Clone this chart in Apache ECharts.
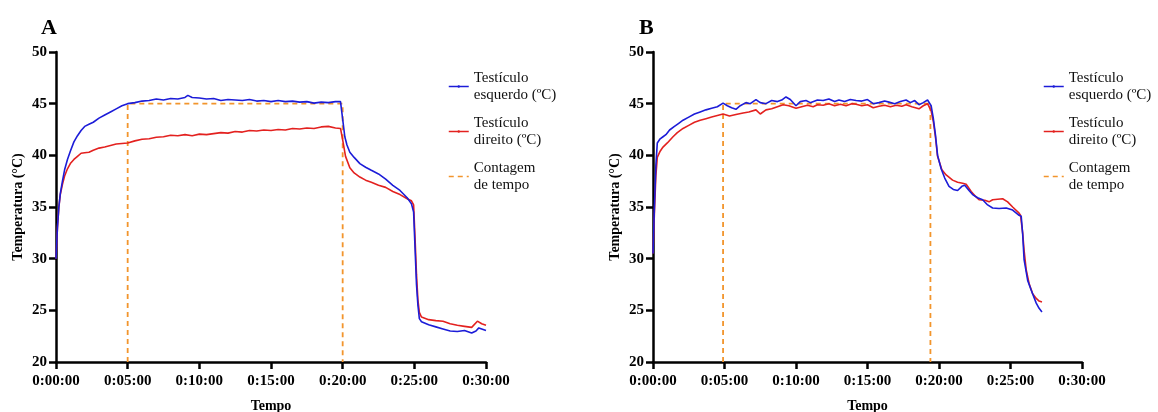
<!DOCTYPE html>
<html>
<head>
<meta charset="utf-8">
<script src="https://cdn.jsdelivr.net/npm/echarts@6/dist/echarts.min.js"></script>
<style>
  html, body { margin: 0; padding: 0; background: #ffffff; }
  #chart { width: 1158px; height: 412px; }
</style>
</head>
<body>
<div id="chart"></div>
<script>
// ---------- DATA (time in minutes, temperature in °C) ----------
const xTickLabels = ['0:00:00', '0:05:00', '0:10:00', '0:15:00', '0:20:00', '0:25:00', '0:30:00'];
const yTicks = [20, 25, 30, 35, 40, 45, 50];
const seriesNames = ['Testículo esquerdo (ºC)', 'Testículo direito (ºC)', 'Contagem de tempo'];
const legendLabels = ['Testículo\nesquerdo (ºC)', 'Testículo\ndireito (ºC)', 'Contagem\nde tempo'];

// Panel A – left testicle (blue)
const tA_left = [0, 0.1, 0.2, 0.3, 0.45, 0.6, 0.8, 1.0, 1.25, 1.5, 1.75, 2.0, 2.3, 2.6, 3.0, 3.4, 3.8, 4.2, 4.6, 5.0,
  5.5, 6.0, 6.5, 7.0, 7.5, 8.0, 8.5, 9.0, 9.2, 9.5, 10.0, 10.5, 11.0, 11.5, 12.0, 12.5, 13.0, 13.5, 14.0, 14.5,
  15.0, 15.5, 16.0, 16.5, 17.0, 17.5, 18.0, 18.5, 19.0, 19.5, 19.85, 20.0, 20.15, 20.3, 20.5, 20.8, 21.2, 21.6,
  22.0, 22.5, 23.0, 23.5, 24.0, 24.5, 24.8, 24.95, 25.05, 25.15, 25.25, 25.35, 25.5, 26.0, 26.5, 27.0, 27.5,
  28.0, 28.5, 29.0, 29.3, 29.5, 30.0];
const vA_left = [30.0, 33.0, 35.0, 36.3, 37.5, 38.6, 39.6, 40.4, 41.3, 41.9, 42.4, 42.8, 43.0, 43.2, 43.6, 43.9, 44.2, 44.5, 44.8, 45.0,
  45.1, 45.25, 45.3, 45.45, 45.35, 45.5, 45.45, 45.6, 45.8, 45.6, 45.55, 45.45, 45.5, 45.3, 45.4, 45.35, 45.3, 45.4, 45.25, 45.3,
  45.2, 45.3, 45.2, 45.25, 45.15, 45.2, 45.05, 45.15, 45.1, 45.2, 45.2, 43.5, 41.8, 41.0, 40.3, 39.8, 39.2, 38.85,
  38.55, 38.2, 37.7, 37.1, 36.6, 35.9, 35.3, 34.5, 31.0, 27.5, 25.5, 24.2, 23.9, 23.6, 23.4, 23.2, 23.0,
  22.95, 23.05, 22.8, 23.0, 23.3, 23.05];

// Panel A – right testicle (red)
const tA_right = [0, 0.1, 0.2, 0.3, 0.45, 0.6, 0.8, 1.0, 1.25, 1.5, 1.75, 2.0, 2.3, 2.6, 3.0, 3.4, 3.8, 4.2, 4.6, 5.0,
  5.5, 6.0, 6.5, 7.0, 7.5, 8.0, 8.5, 9.0, 9.5, 10.0, 10.5, 11.0, 11.5, 12.0, 12.5, 13.0, 13.5, 14.0, 14.5,
  15.0, 15.5, 16.0, 16.5, 17.0, 17.5, 18.0, 18.5, 19.0, 19.5, 19.85, 20.0, 20.2, 20.5, 20.8, 21.2, 21.6,
  22.0, 22.5, 23.0, 23.5, 24.0, 24.5, 24.8, 24.95, 25.05, 25.15, 25.25, 25.35, 25.5, 26.0, 26.5, 27.0, 27.5,
  28.0, 28.5, 29.0, 29.4, 29.7, 30.0];
const vA_right = [30.0, 33.0, 35.0, 36.2, 37.2, 38.0, 38.7, 39.2, 39.6, 39.9, 40.2, 40.25, 40.3, 40.5, 40.7, 40.8, 40.95, 41.1, 41.15, 41.2,
  41.4, 41.55, 41.6, 41.75, 41.8, 41.95, 41.9, 42.0, 41.9, 42.05, 42.0, 42.1, 42.2, 42.15, 42.3, 42.25, 42.4, 42.35, 42.45,
  42.4, 42.5, 42.45, 42.6, 42.55, 42.65, 42.6, 42.75, 42.8, 42.65, 42.6, 41.5, 39.9, 38.8, 38.3, 37.9, 37.6,
  37.4, 37.1, 36.9, 36.5, 36.2, 35.8, 35.6, 35.2, 32.0, 28.5, 26.0, 24.8, 24.35, 24.1, 24.0, 23.95, 23.7,
  23.55, 23.45, 23.35, 23.95, 23.7, 23.55];

// Panel A – time counting marks
const tA_count = [5, 5, 20, 20];
const vA_count = [20, 45, 45, 20];

// Panel B – left testicle (blue)
const tB_left = [0, 0.1, 0.2, 0.3, 0.5, 0.7, 0.9, 1.16, 1.5, 1.8, 2.1, 2.5, 2.9, 3.3, 3.7, 4.1, 4.5, 4.9, 5.2, 5.5,
  5.8, 6.1, 6.5, 6.8, 7.2, 7.5, 7.9, 8.3, 8.7, 9.0, 9.3, 9.6, 10.0, 10.3, 10.7, 11.0, 11.5, 11.9, 12.3, 12.7,
  13.0, 13.4, 13.8, 14.2, 14.6, 15.0, 15.4, 15.8, 16.2, 16.5, 16.9, 17.3, 17.7, 18.0, 18.3, 18.6, 18.9, 19.2,
  19.45, 19.6, 19.75, 19.9, 20.15, 20.4, 20.7, 21.0, 21.3, 21.6, 21.8, 22.1, 22.35, 22.7, 23.05, 23.4, 23.75,
  24.2, 24.7, 25.15, 25.6, 25.75, 25.85, 25.95, 26.2, 26.45, 26.8, 27.0, 27.2];
const vB_left = [30.5, 35.0, 39.0, 41.2, 41.6, 41.8, 42.0, 42.45, 42.8, 43.1, 43.4, 43.7, 44.0, 44.2, 44.4, 44.55, 44.7, 45.05, 44.8, 44.6,
  44.45, 44.8, 45.1, 45.0, 45.4, 45.1, 45.0, 45.3, 45.2, 45.35, 45.65, 45.4, 44.8, 45.2, 45.3, 45.1, 45.35, 45.3, 45.45, 45.2,
  45.35, 45.2, 45.4, 45.3, 45.25, 45.4, 45.0, 45.1, 45.25, 45.15, 45.0, 45.2, 45.35, 45.1, 45.3, 44.9, 45.1, 45.35,
  44.8, 43.6, 42.0, 40.0, 38.7, 37.8, 37.0, 36.7, 36.6, 37.0, 37.1, 36.6, 36.2, 35.9, 35.7, 35.2, 34.9,
  34.85, 34.9, 34.7, 34.2, 34.1, 32.4, 29.9, 27.9, 26.95, 25.7, 25.2, 24.85];

// Panel B – right testicle (red)
const tB_right = [0, 0.1, 0.2, 0.3, 0.5, 0.7, 1.0, 1.4, 1.7, 2.1, 2.5, 2.9, 3.3, 3.7, 4.1, 4.5, 4.9, 5.35, 5.8, 6.3,
  6.7, 7.2, 7.5, 7.9, 8.3, 8.7, 9.1, 9.5, 10.0, 10.4, 10.8, 11.2, 11.5, 11.9, 12.3, 12.7, 13.1, 13.5, 13.9, 14.2,
  14.6, 15.0, 15.4, 15.8, 16.2, 16.6, 17.0, 17.4, 17.7, 18.1, 18.6, 18.9, 19.2, 19.45, 19.6, 19.75, 19.9, 20.2,
  20.5, 20.95, 21.3, 21.65, 21.9, 22.25, 22.5, 22.8, 23.2, 23.5, 23.75, 24.1, 24.45, 24.8, 25.15, 25.6, 25.7,
  25.85, 25.95, 26.1, 26.3, 26.55, 26.8, 27.0, 27.2];
const vB_right = [30.5, 34.5, 38.0, 39.8, 40.4, 40.8, 41.2, 41.8, 42.2, 42.6, 42.9, 43.2, 43.4, 43.55, 43.7, 43.85, 44.0, 43.8, 43.95, 44.1,
  44.2, 44.4, 44.0, 44.4, 44.5, 44.7, 44.9, 44.8, 44.55, 44.7, 44.85, 44.7, 44.9, 44.85, 45.0, 44.8, 44.95, 44.8, 45.0, 44.95,
  44.8, 44.9, 44.6, 44.75, 44.85, 44.7, 44.85, 44.75, 44.9, 44.7, 44.5, 44.8, 45.0, 44.3, 43.3, 41.8, 39.9, 38.6,
  38.1, 37.6, 37.4, 37.3, 37.2, 36.5, 36.1, 35.7, 35.65, 35.5, 35.7, 35.75, 35.8, 35.5, 35.0, 34.4, 34.2,
  32.5, 30.8, 28.9, 27.6, 26.6, 26.15, 25.9, 25.8];

// Panel B – time counting marks
const tB_count = [4.9, 4.9, 19.4, 19.4];
const vB_count = [20, 45, 45, 20];

// ---------- CHART ----------
const zip = (t, v) => t.map((x, i) => [x, v[i]]);
const FONT = '"Liberation Serif", "Times New Roman", serif';
const BLUE = '#1c1cd8', RED = '#e3211f', ORANGE = '#f2952c';

function makeX(idx) {
  return {
    type: 'value', gridIndex: idx, min: 0, max: 30, interval: 5,
    name: 'Tempo', nameLocation: 'middle', nameGap: 37,
    nameTextStyle: { fontFamily: FONT, fontWeight: 'bold', fontSize: 14, color: '#000' },
    axisLine: { lineStyle: { color: '#000', width: 2.5 } },
    axisTick: { show: true, length: 7, lineStyle: { color: '#000', width: 2.5 } },
    axisLabel: { margin: 12, fontFamily: FONT, fontWeight: 'bold', fontSize: 15, color: '#000',
      formatter: v => xTickLabels[Math.round(v / 5)] },
    splitLine: { show: false }
  };
}
function makeY(idx) {
  return {
    type: 'value', gridIndex: idx, min: yTicks[0], max: yTicks[yTicks.length - 1], interval: 5,
    name: 'Temperatura (°C)', nameLocation: 'middle', nameGap: 31, nameRotate: 90,
    nameTextStyle: { fontFamily: FONT, fontWeight: 'bold', fontSize: 14, color: '#000' },
    axisLine: { show: true, lineStyle: { color: '#000', width: 2.5 } },
    axisTick: { show: true, length: 7, lineStyle: { color: '#000', width: 2.5 } },
    axisLabel: { margin: 9, fontFamily: FONT, fontWeight: 'bold', fontSize: 15, color: '#000' },
    splitLine: { show: false }
  };
}
function lineSeries(name, idx, data, color, dashed) {
  return {
    type: 'line', name: name, xAxisIndex: idx, yAxisIndex: idx, data: data,
    symbol: 'none', smooth: false,
    lineStyle: { color: color, width: dashed ? 1.8 : 1.6, type: dashed ? [5, 4] : 'solid' },
    itemStyle: { color: color },
    z: dashed ? 1 : 2
  };
}
function makeLegend(left) {
  return {
    orient: 'vertical', left: left, top: 64, itemWidth: 20, itemHeight: 3, itemGap: 10,
    data: [
      { name: seriesNames[0] },
      { name: seriesNames[1] },
      { name: seriesNames[2], itemStyle: { opacity: 0 } }
    ],
    formatter: n => legendLabels[seriesNames.indexOf(n)],
    lineStyle: { width: 1.5 },
    textStyle: { fontFamily: FONT, fontSize: 15, color: '#111', lineHeight: 17.5 }
  };
}

const chart = echarts.init(document.getElementById('chart'), null, { renderer: 'canvas' });
chart.setOption({
  animation: false,
  backgroundColor: '#ffffff',
  title: [
    { text: 'A', left: 36, top: 12, textStyle: { fontFamily: FONT, fontWeight: 'bold', fontSize: 22, color: '#000' } },
    { text: 'B', left: 634, top: 12, textStyle: { fontFamily: FONT, fontWeight: 'bold', fontSize: 22, color: '#000' } }
  ],
  grid: [
    { left: 56, top: 52, width: 430, height: 310, outerBoundsMode: 'none', containLabel: false },
    { left: 653, top: 52, width: 429, height: 310, outerBoundsMode: 'none', containLabel: false }
  ],
  xAxis: [makeX(0), makeX(1)],
  yAxis: [makeY(0), makeY(1)],
  legend: [makeLegend(443), makeLegend(1038)],
  series: [
    lineSeries(seriesNames[2], 0, zip(tA_count, vA_count), ORANGE, true),
    lineSeries(seriesNames[1], 0, zip(tA_right, vA_right), RED, false),
    lineSeries(seriesNames[0], 0, zip(tA_left, vA_left), BLUE, false),
    lineSeries(seriesNames[2], 1, zip(tB_count, vB_count), ORANGE, true),
    lineSeries(seriesNames[1], 1, zip(tB_right, vB_right), RED, false),
    lineSeries(seriesNames[0], 1, zip(tB_left, vB_left), BLUE, false)
  ]
});
</script>
</body>
</html>
